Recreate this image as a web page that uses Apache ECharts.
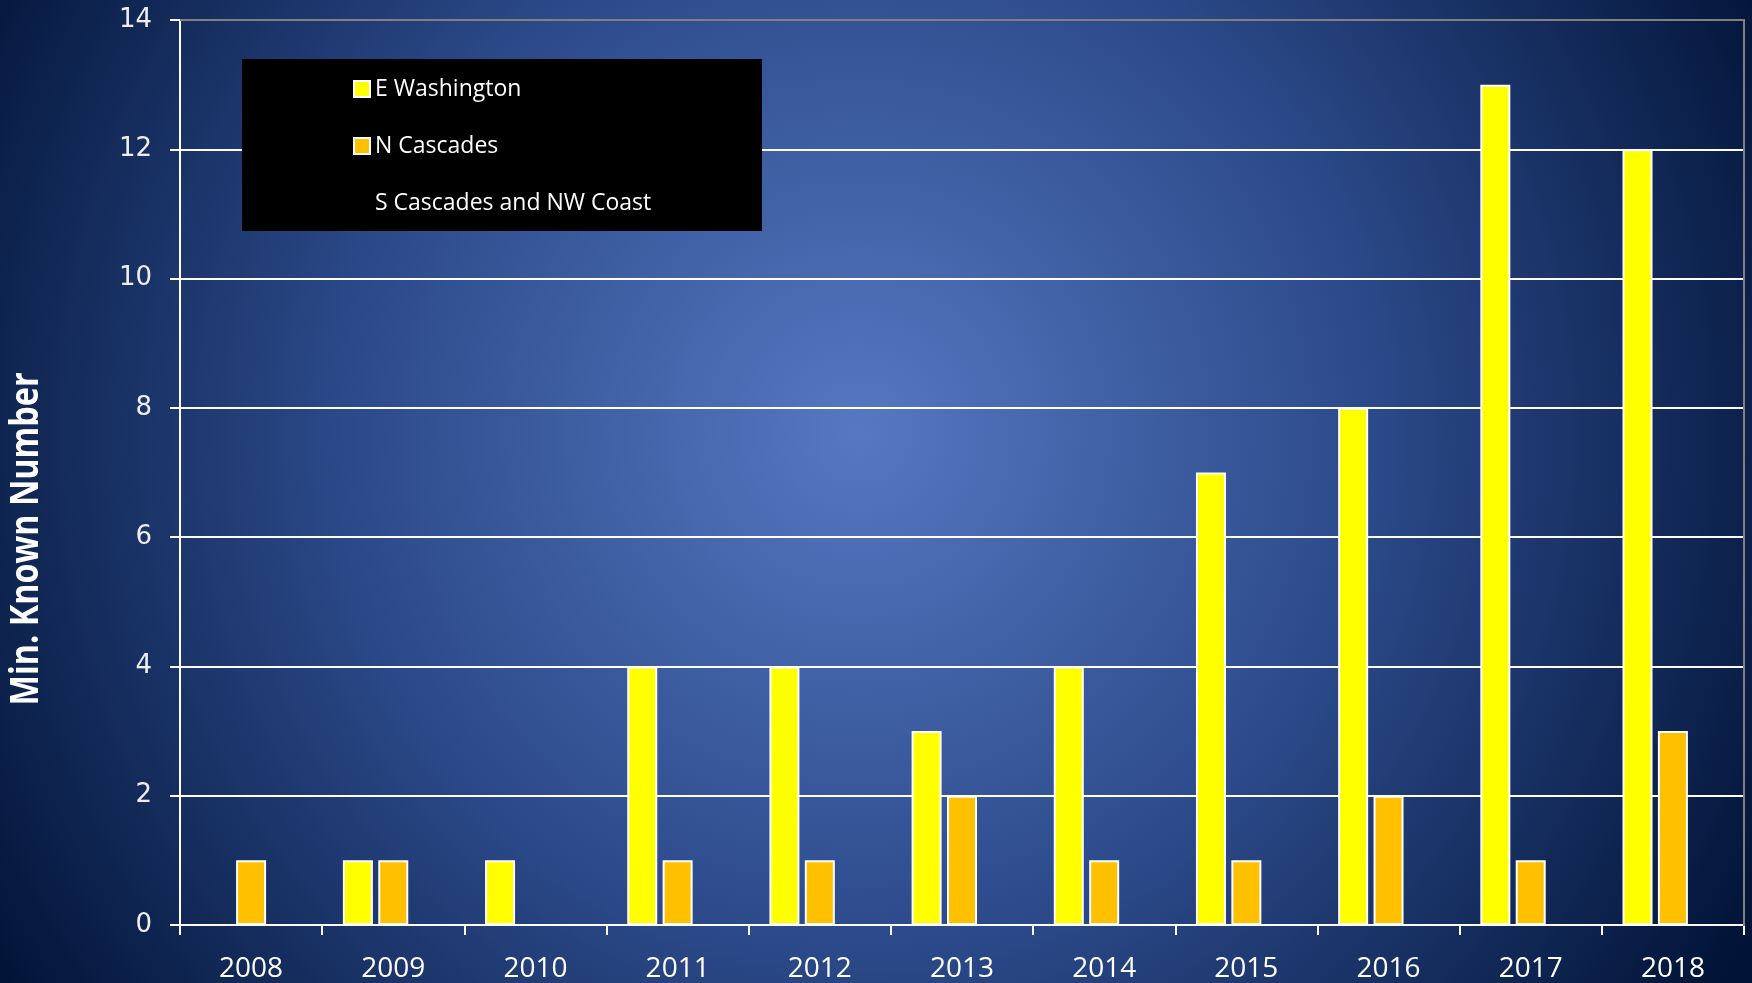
<!DOCTYPE html>
<html>
<head>
<meta charset="utf-8">
<script src="https://cdn.jsdelivr.net/npm/echarts@6/dist/echarts.min.js"></script>
<style>
  html, body { margin: 0; padding: 0; }
  #chart { width: 1752px; height: 983px; }
</style>
</head>
<body>
<div id="chart"></div>
<script>
var chart = echarts.init(document.getElementById('chart'));

// data
var years = ['2008', '2009', '2010', '2011', '2012', '2013', '2014', '2015', '2016', '2017', '2018'];
var eWashington = [null, 1, 1, 4, 4, 3, 4, 7, 8, 13, 12];
var nCascades = [1, 1, null, 1, 1, 2, 1, 1, 2, 1, 3];
var sCascades = [null, null, null, null, null, null, null, null, null, null, null];
var yTitle = 'Min. Known Number';

var barStyle = function (color) {
  return { color: color, borderColor: '#ffffff', borderWidth: 2 };
};

var option = {
  backgroundColor: {
    type: 'radial', x: 0.49, y: 0.44, r: 1.04,
    colorStops: [
      { offset: 0, color: '#5678c2' },
      { offset: 0.5, color: '#2c4a8a' },
      { offset: 1, color: '#011336' }
    ]
  },
  animation: false,
  graphic: [
    { // black legend box
      type: 'rect', z: 3,
      shape: { x: 242, y: 59, width: 520, height: 172 },
      style: { fill: '#000000' }
    },
    { // top and right frame lines in grey
      type: 'polyline', z: 5,
      shape: { points: [[180, 20], [1744, 20], [1744, 926]] },
      style: { stroke: '#808080', lineWidth: 2, fill: null }
    },
    { // y axis title, condensed look
      type: 'text', z: 5,
      x: 27, y: 539, rotation: Math.PI / 2, scaleX: 0.83,
      style: {
        text: yTitle, fill: '#ffffff',
        font: 'bold 39px "Open Sans"',
        align: 'center', verticalAlign: 'middle'
      }
    }
  ],
  legend: {
    z: 10,
    orient: 'vertical',
    left: 353, top: 77,
    padding: 0,
    itemWidth: 16, itemHeight: 16,
    itemGap: 33,
    textStyle: { color: '#ffffff', fontFamily: 'Open Sans', fontSize: 23, lineHeight: 24 },
    data: [
      { name: 'E Washington', icon: 'rect' },
      { name: 'N Cascades', icon: 'rect' },
      { name: 'S Cascades and NW Coast', icon: 'none' }
    ]
  },
  grid: { left: 180, right: 8, top: 20, bottom: 57 },
  xAxis: {
    type: 'category',
    data: years,
    axisLine: { lineStyle: { color: '#ffffff', width: 2 } },
    axisTick: { show: true, length: 10, lineStyle: { color: '#ffffff', width: 2 } },
    axisLabel: { color: '#ffffff', fontFamily: 'Open Sans', fontSize: 28, margin: 30 },
    splitLine: { show: false }
  },
  yAxis: {
    type: 'value',
    min: 0, max: 14, interval: 2,
    axisLine: { show: true, lineStyle: { color: '#ffffff', width: 2 } },
    axisTick: { show: true, length: 10, lineStyle: { color: '#ffffff', width: 2 } },
    axisLabel: { color: '#eeeeee', fontFamily: 'DejaVu Sans', fontSize: 26, margin: 28 },
    splitLine: { show: true, lineStyle: { color: '#ffffff', width: 2 } }
  },
  series: [
    { name: 'E Washington', type: 'bar', data: eWashington, barWidth: 30, barGap: '18%', itemStyle: barStyle('#ffff00') },
    { name: 'N Cascades', type: 'bar', data: nCascades, barWidth: 30, barGap: '18%', itemStyle: barStyle('#ffc000') },
    { name: 'S Cascades and NW Coast', type: 'bar', data: sCascades, barWidth: 30, barGap: '18%', itemStyle: { color: 'transparent', borderWidth: 0 } }
  ]
};

chart.setOption(option);
</script>
</body>
</html>
